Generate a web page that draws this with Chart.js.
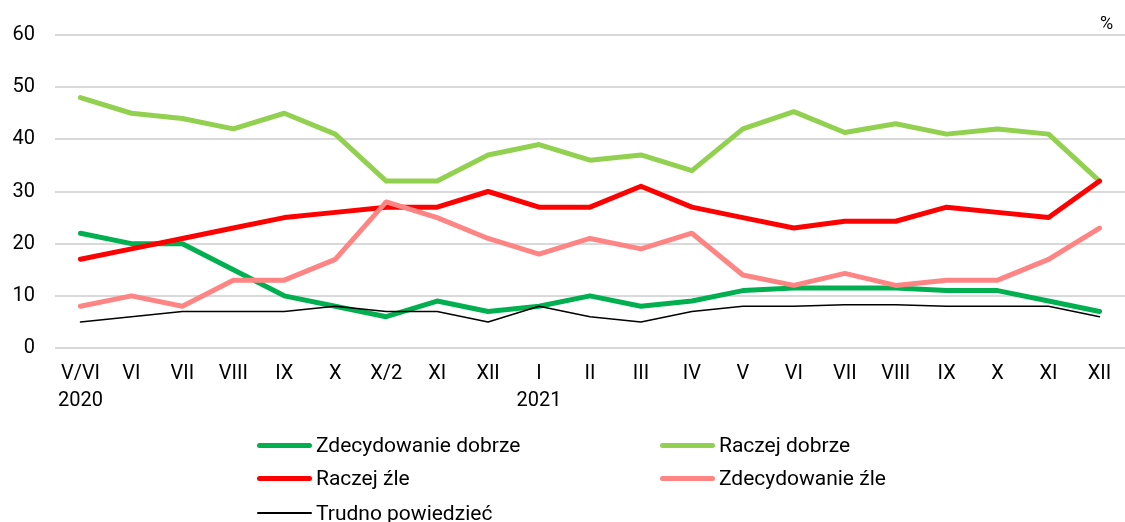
<!DOCTYPE html>
<html>
<head>
<meta charset="utf-8">
<script src="https://cdn.jsdelivr.net/npm/chart.js@4"></script>
<style>
	body { margin: 0; background: #fff; font-family: Roboto, sans-serif; }
	#wrap { position: relative; width: 1125px; height: 522px; }
	#unit { position: absolute; left: 1100px; top: 12px; font-size: 18px; color: #000; }
	#legend { position: absolute; left: 0; top: 0; width: 1125px; height: 522px; pointer-events: none; }
	.item { position: absolute; font-size: 21px; color: #000; line-height: 24px; }
	.item span.mark { position: absolute; border-radius: 3px; }
</style>
</head>
<body>
<div id="wrap">
	<canvas id="myChart" width="1125" height="522"></canvas>
	<div id="unit">%</div>
	<div id="legend"></div>
</div>
<script>
	// kategorie osi X (miesiace)
	const months = [["V/VI", "2020"], "VI", "VII", "VIII", "IX", "X", "X/2", "XI", "XII", ["I", "2021"], "II", "III", "IV", "V", "VI", "VII", "VIII", "IX", "X", "XI", "XII"];
	const yTicks = [0, 10, 20, 30, 40, 50, 60];

	// wartosci serii (%)
	const zdecydowanieDobrze = [22, 20, 20, 15, 10, 8, 6, 9, 7, 8, 10, 8, 9, 11, 11.5, 11.5, 11.5, 11, 11, 9, 7];
	const raczejDobrze = [48, 45, 44, 42, 45, 41, 32, 32, 37, 39, 36, 37, 34, 42, 45.3, 41.3, 43, 41, 42, 41, 32];
	const raczejZle = [17, 19, 21, 23, 25, 26, 27, 27, 30, 27, 27, 31, 27, 25, 23, 24.3, 24.3, 27, 26, 25, 32];
	const zdecydowanieZle = [8, 10, 8, 13, 13, 17, 28, 25, 21, 18, 21, 19, 22, 14, 12, 14.3, 12, 13, 13, 17, 23];
	const trudnoPowiedziec = [5, 6, 7, 7, 7, 8, 7, 7, 5, 8, 6, 5, 7, 8, 8, 8.3, 8.3, 8, 8, 8, 6];

	const series = [
		{ label: "Zdecydowanie dobrze", data: zdecydowanieDobrze, color: "#00B050", width: 5 },
		{ label: "Raczej dobrze", data: raczejDobrze, color: "#92D050", width: 5 },
		{ label: "Raczej źle", data: raczejZle, color: "#FF0000", width: 5 },
		{ label: "Zdecydowanie źle", data: zdecydowanieZle, color: "#FF8585", width: 5 },
		{ label: "Trudno powiedzieć", data: trudnoPowiedziec, color: "#000000", width: 1.5 }
	];

	// pozycje legendy (2 kolumny)
	const legendPos = [[257, 433], [660, 433], [257, 466], [660, 466], [257, 501]];
	const legend = document.getElementById("legend");
	series.forEach(function(s, i){
		const div = document.createElement("div");
		div.className = "item";
		div.style.left = (legendPos[i][0] + 59) + "px";
		div.style.top = legendPos[i][1] + "px";
		div.textContent = s.label;
		const mark = document.createElement("span");
		mark.className = "mark";
		mark.style.left = "-59px";
		mark.style.width = "55px";
		mark.style.height = s.width + "px";
		mark.style.top = (12 - s.width / 2) + "px";
		mark.style.background = s.color;
		div.appendChild(mark);
		legend.appendChild(div);
	});

	const ctx = document.getElementById('myChart').getContext('2d');
	const myChart = new Chart(ctx, {
		type: "line",
		data: {
			labels: months,
			datasets: series.map(function(s, i){
				return {
					label: s.label,
					data: s.data,
					borderColor: s.color,
					backgroundColor: s.color,
					borderWidth: s.width,
					pointRadius: 0,
					tension: 0,
					borderCapStyle: "round",
					borderJoinStyle: "round",
					order: series.length - 1 - i // ostatnia seria na wierzchu
				};
			})
		},
		options: {
			responsive: false,
			animation: false,
			layout: { padding: { top: 35, right: 0, bottom: 107, left: 0 } },
			plugins: {
				legend: { display: false },
				tooltip: { enabled: false }
			},
			scales: {
				x: {
					offset: true,
					grid: { display: false, drawTicks: false },
					border: { display: false },
					ticks: {
						color: "#000",
						font: { family: "Roboto", size: 20, lineHeight: 1.35 },
						padding: 12,
						maxRotation: 0,
						autoSkip: false
					},
					afterFit: function(scale){ scale.height = 67; }
				},
				y: {
					min: 0,
					max: 60,
					afterBuildTicks: function(scale){
						scale.ticks = yTicks.map(function(v){ return { value: v }; });
					},
					grid: { color: "#D9D9D9", lineWidth: 2, drawTicks: false },
					border: { display: false },
					ticks: {
						color: "#000",
						font: { family: "Roboto", size: 20 },
						padding: 20
					},
					afterFit: function(scale){ scale.width = 55; }
				}
			}
		}
	});
</script>
</body>
</html>
